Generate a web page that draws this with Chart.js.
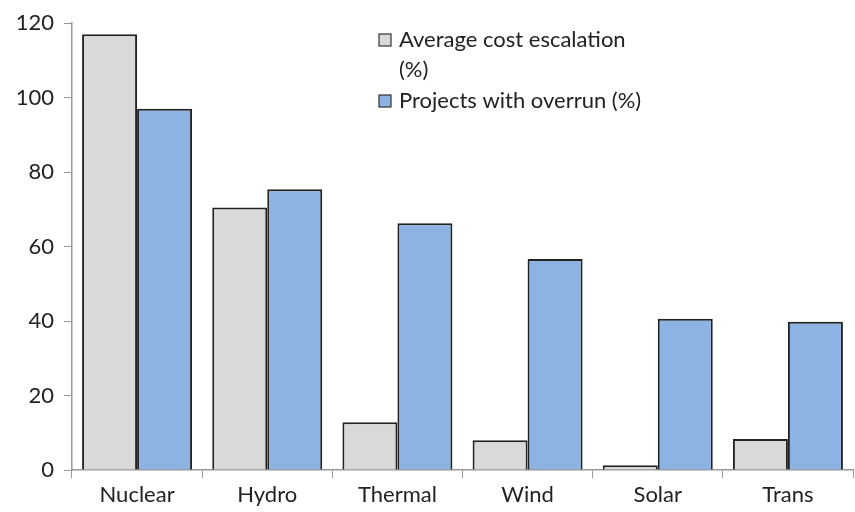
<!DOCTYPE html>
<html><head><meta charset="utf-8">
<script src="https://cdn.jsdelivr.net/npm/chart.js@4/dist/chart.umd.min.js"></script>
<style>html,body{margin:0;padding:0;background:#fff}#wrap{width:855px;height:512px}</style>
</head><body><div id="wrap"><canvas id="c" width="855" height="512"></canvas></div>
<script>
const categories = ["Nuclear", "Hydro", "Thermal", "Wind", "Solar", "Trans"];
const avgCostEscalation = [117, 70.5, 12.8, 8, 1.3, 8.3];
const projectsWithOverrun = [97, 75.4, 66.3, 56.7, 40.6, 39.8];
const yTicks = [0, 20, 40, 60, 80, 100, 120];
const seriesLabels = [["Average cost escalation", "(%)"], ["Projects with overrun (%)"]];

const FONT = "Lato, 'Open Sans', sans-serif";

const legendPlugin = {
  id: 'customLegend',
  afterDraw(chart) {
    const ctx = chart.ctx;
    ctx.save();
    ctx.font = "22px " + FONT;
    ctx.textBaseline = "middle";
    const x0 = 379, ys = [40, 101], lh = 30;
    chart.data.datasets.forEach((ds, i) => {
      ctx.fillStyle = ds.backgroundColor;
      ctx.fillRect(x0, ys[i] - 6, 12, 12);
      ctx.strokeStyle = "#333";
      ctx.lineWidth = 1.2;
      ctx.strokeRect(x0, ys[i] - 6, 12, 12);
      ctx.fillStyle = "#222";
      seriesLabels[i].forEach((t, j) => ctx.fillText(t, x0 + 20, ys[i] + j * lh));
    });
    ctx.restore();
  }
};

new Chart(document.getElementById('c'), {
  type: 'bar',
  data: {
    labels: categories,
    datasets: [
      { label: seriesLabels[0].join(' '), data: avgCostEscalation, backgroundColor: '#d9d9d9', borderColor: '#222', borderWidth: 2, barPercentage: 1, categoryPercentage: 0.845 },
      { label: seriesLabels[1].join(' '), data: projectsWithOverrun, backgroundColor: '#8db3e2', borderColor: '#222', borderWidth: 2, barPercentage: 1, categoryPercentage: 0.845 }
    ]
  },
  options: {
    responsive: false,
    animation: false,
    layout: { padding: { top: 11, right: 2, left: 0, bottom: 0 } },
    plugins: { legend: { display: false }, tooltip: { enabled: false } },
    scales: {
      x: {
        grid: { display: true, drawOnChartArea: false, offset: true, color: '#999', tickLength: 8 },
        border: { display: true, color: '#999', width: 1.5 },
        ticks: { color: '#222', font: { size: 22, family: FONT }, padding: 4 },
        afterFit(s) { s.height = 42; }
      },
      y: {
        min: 0, max: 120,
        afterBuildTicks(s) { s.ticks = yTicks.map(v => ({ value: v })); },
        grid: { display: true, drawOnChartArea: false, color: '#999', tickLength: 8 },
        border: { display: true, color: '#999', width: 1.5 },
        ticks: { color: '#222', font: { size: 22, family: FONT }, padding: 10 },
        afterFit(s) { s.width = 72; }
      }
    }
  },
  plugins: [legendPlugin]
});
</script>
</body></html>
